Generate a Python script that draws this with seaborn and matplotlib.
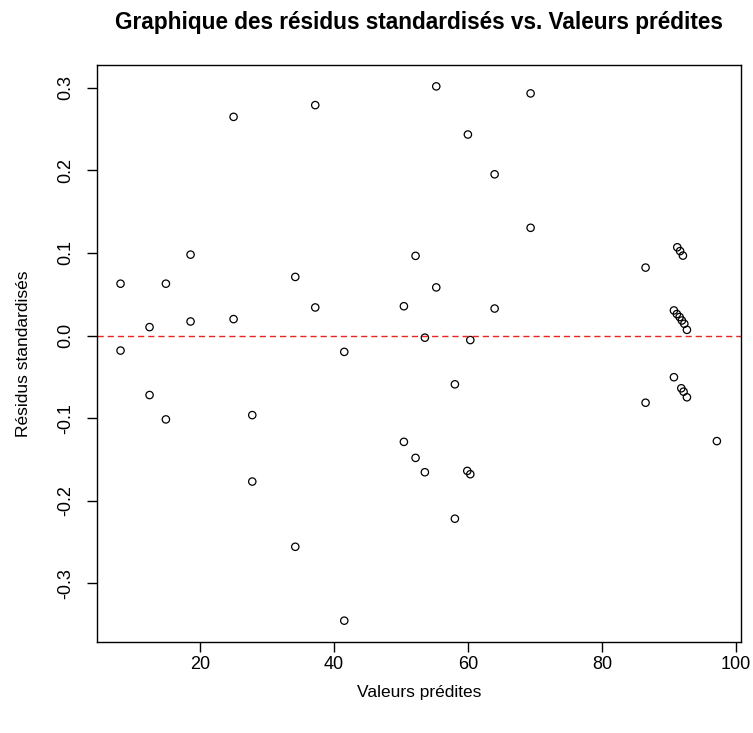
import matplotlib
matplotlib.use("Agg")
import matplotlib.pyplot as plt
import seaborn as sns
import pandas as pd

# Fitted values and their standardised residuals
valeurs_predites = [
    8.16, 8.16, 12.49, 12.49, 14.93, 14.93, 18.61, 18.61,
    25.03, 25.03, 27.82, 27.82, 34.24, 34.24, 37.22, 37.22,
    41.55, 41.55, 50.45, 50.45, 52.19, 52.19, 53.58, 53.58,
    55.28, 55.28, 58.06, 58.06, 60.00, 59.91, 60.36, 60.36,
    63.99, 63.99, 69.36, 69.36, 86.52, 86.52,
    91.25, 91.67, 92.09,
    90.75, 91.19, 91.60, 91.94, 92.30, 92.69,
    90.75, 91.85, 92.19, 92.69,
    97.16,
]
residus_std = [
    0.0628, -0.0182, 0.0102, -0.0721, 0.0628, -0.1016, 0.0980, 0.0170,
    0.2649, 0.0199, -0.0964, -0.1769, 0.0710, -0.2559, 0.2791, 0.0340,
    -0.0198, -0.3454, 0.0355, -0.1288, 0.0965, -0.1482, -0.0026, -0.1656,
    0.3018, 0.0583, -0.0591, -0.2219, 0.2435, -0.1640, -0.0055, -0.1680,
    0.1953, 0.0327, 0.2933, 0.1305, 0.0823, -0.0814,
    0.1069, 0.1023, 0.0968,
    0.0304, 0.0260, 0.0224, 0.0182, 0.0142, 0.0069,
    -0.0505, -0.0639, -0.0680, -0.0748,
    -0.1279,
]

titre = "Graphique des résidus standardisés vs. Valeurs prédites"
label_x = "Valeurs prédites"
label_y = "Résidus standardisés"
ticks_x = [20, 40, 60, 80, 100]
ticks_y = [-0.3, -0.2, -0.1, 0.0, 0.1, 0.2, 0.3]

df = pd.DataFrame({"pred": valeurs_predites, "resid": residus_std})

sns.set_style("white")
plt.rcParams["font.family"] = ["Liberation Sans", "DejaVu Sans"]
plt.rcParams.update({
    "text.color": "black",
    "axes.labelcolor": "black",
    "xtick.color": "black",
    "ytick.color": "black",
})

fig = plt.figure(figsize=(7.53, 7.33), dpi=100)
ax = fig.add_axes([0.1284, 0.1241, 0.8553, 0.7872])

sns.scatterplot(data=df, x="pred", y="resid", ax=ax, marker="o", s=28,
                facecolors="none", edgecolor="black", linewidth=0.9)

ax.axhline(0, color="#e8261f", linewidth=1.0, linestyle=(0, (4.5, 2.8)))

ax.margins(x=0.04, y=0.04)
ax.set_xticks(ticks_x)
ax.set_yticks(ticks_y)
ax.set_xticklabels([str(t) for t in ticks_x], fontsize=13)
ax.set_yticklabels([f"{t:.1f}" for t in ticks_y], fontsize=13,
                   rotation=90, va="center")
ax.tick_params(axis="x", direction="out", length=7, width=1.0,
               color="black", pad=3, bottom=True)
ax.tick_params(axis="y", direction="out", length=7, width=1.0,
               color="black", pad=9, left=True)

for sp in ax.spines.values():
    sp.set_color("black")
    sp.set_linewidth(1.0)

ax.set_xlabel(label_x, fontsize=12.5, labelpad=9)
ax.set_ylabel(label_y, fontsize=12.5, labelpad=19)

# Title centred over the plotting region
cx = ax.get_position().x0 + ax.get_position().width / 2
fig.text(cx, 0.985, titre, fontsize=16.3, fontweight="bold",
         ha="center", va="top")

fig.savefig("out.png", dpi=100)
